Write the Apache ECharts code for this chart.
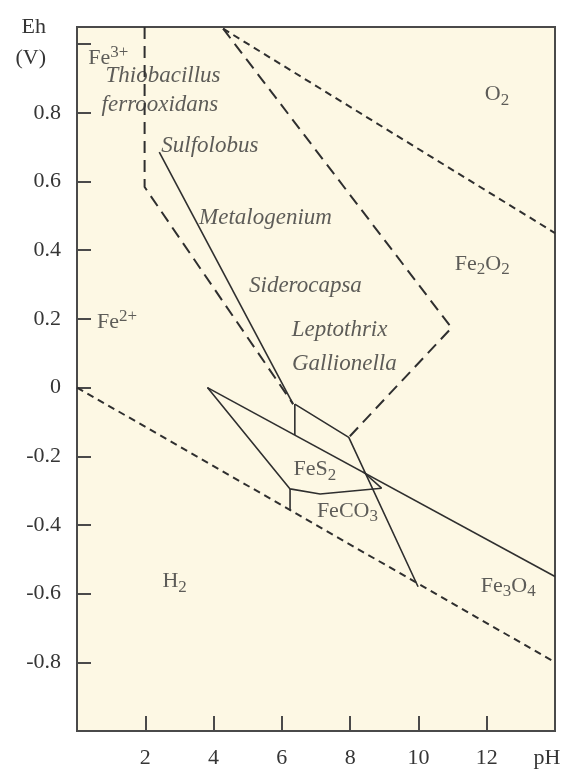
<!DOCTYPE html>
<html>
<head>
<meta charset="utf-8">
<script src="https://cdn.jsdelivr.net/npm/echarts@6/dist/echarts.min.js"></script>
<style>
html,body{margin:0;padding:0;background:#ffffff;}
#chart{width:564px;height:769px;}
</style>
</head>
<body>
<div id="chart"></div>
<script>
// ---- data (pH, Eh in V) ----
const pHTicks = [2, 4, 6, 8, 10, 12];
const ehTicks = [-0.8, -0.6, -0.4, -0.2, 0, 0.2, 0.4, 0.6, 0.8, 1.0];
const ehLabels = [-0.8, -0.6, -0.4, -0.2, 0, 0.2, 0.4, 0.6, 0.8];

const h2Boundary = [[0, 0], [14, -0.8]];
const o2Boundary = [[4.28, 1.045], [14, 0.45]];
const fe3Boundary = [[1.98, 1.05], [1.98, 0.584], [6.33, -0.048]];
const oxideBoundary = [[4.28, 1.045], [10.97, 0.174], [7.96, -0.145]];
const sulfolobusLine = [[2.41, 0.686], [6.33, -0.048]];
const ironStepLine = [[6.38, -0.048], [7.96, -0.145], [9.99, -0.58]];
const ironVertical = [[6.38, -0.048], [6.38, -0.138]];
const pyriteUpper = [[3.82, 0.0], [14, -0.55]];
const pyriteLower = [[3.82, 0.0], [6.24, -0.295], [7.12, -0.31], [8.92, -0.293], [8.38, -0.245]];
const sideriteEdge = [[6.24, -0.295], [6.24, -0.357]];

// annotations: [pH, Eh, rich text]
const annotations = [
  [0.92, 0.959, '{r|Fe}{sup|3+}'],
  [2.52, 0.907, '{i|Thiobacillus}'],
  [2.43, 0.824, '{i|ferrooxidans}'],
  [3.89, 0.703, '{i|Sulfolobus}'],
  [5.52, 0.495, '{i|Metalogenium}'],
  [6.69, 0.297, '{i|Siderocapsa}'],
  [7.69, 0.167, '{i|Leptothrix}'],
  [7.83, 0.070, '{i|Gallionella}'],
  [12.3, 0.853, '{r|O}{sub|2}'],
  [11.87, 0.36, '{r|Fe}{sub|2}{r|O}{sub|2}'],
  [1.17, 0.19, '{r|Fe}{sup|2+}'],
  [6.97, -0.239, '{r|FeS}{sub|2}'],
  [7.92, -0.360, '{r|FeCO}{sub|3}'],
  [2.86, -0.565, '{r|H}{sub|2}'],
  [12.63, -0.578, '{r|Fe}{sub|3}{r|O}{sub|4}']
];

// ---- styling ----
const FONT = 'Liberation Serif';
const TEXT = '#353535';
const LINE = '#2f2f2f';
const rich = {
  r: {fontFamily: FONT, fontSize: 22, color: TEXT, lineHeight: 28},
  i: {fontFamily: FONT, fontSize: 23, fontStyle: 'italic', color: TEXT, lineHeight: 28},
  sub: {fontFamily: FONT, fontSize: 17, color: TEXT, lineHeight: 18, verticalAlign: 'bottom'},
  sup: {fontFamily: FONT, fontSize: 17, color: TEXT, lineHeight: 18, verticalAlign: 'top'}
};

function lineSeries(name, data, dash) {
  return {
    name: name, type: 'line', data: data, symbol: 'none', silent: true,
    animation: false,
    lineStyle: {color: LINE, width: dash ? 2 : 1.6, type: dash || 'solid'},
    z: 3
  };
}
const SHORT = [7, 5];
const LONG = [12, 7];

const chart = echarts.init(document.getElementById('chart'), null, {renderer: 'canvas'});
chart.setOption({
  animation: false,
  backgroundColor: '#ffffff',
  grid: {
    left: 77, right: 9, top: 27, bottom: 35,
    show: true, backgroundColor: '#fdf8e4', borderColor: '#4a4a4a', borderWidth: 2
  },
  xAxis: {
    type: 'value', min: 0, max: 14,
    name: 'pH', nameLocation: 'end', nameGap: -8,
    nameTextStyle: {fontFamily: FONT, fontSize: 22, color: TEXT, align: 'center', verticalAlign: 'top', padding: [16, 0, 0, 0]},
    axisLine: {show: true, onZero: false, lineStyle: {color: '#4a4a4a', width: 2}},
    axisTick: {show: true, inside: true, length: 15, customValues: pHTicks, lineStyle: {color: '#4a4a4a', width: 2}},
    axisLabel: {customValues: pHTicks, margin: 16, fontFamily: FONT, fontSize: 22, color: TEXT},
    splitLine: {show: false}
  },
  yAxis: {
    type: 'value', min: -1, max: 1.05,
    name: 'Eh\n(V)', nameLocation: 'end', nameGap: -15.5,
    nameTextStyle: {fontFamily: FONT, fontSize: 22, color: TEXT, align: 'right', verticalAlign: 'middle', lineHeight: 31, padding: [0, 31, 0, 0]},
    axisLine: {show: true, onZero: false, lineStyle: {color: '#4a4a4a', width: 2}},
    axisTick: {show: true, inside: true, length: 14, customValues: ehTicks, lineStyle: {color: '#4a4a4a', width: 2}},
    axisLabel: {
      customValues: ehLabels, margin: 16, fontFamily: FONT, fontSize: 22, color: TEXT,
      formatter: function (v) { return Math.abs(v) < 1e-9 ? '0' : v.toFixed(1); }
    },
    splitLine: {show: false}
  },
  series: [
    lineSeries('H2 boundary', h2Boundary, SHORT),
    lineSeries('O2 boundary', o2Boundary, SHORT),
    lineSeries('Fe3+ boundary', fe3Boundary, LONG),
    lineSeries('oxide boundary', oxideBoundary, LONG),
    lineSeries('Sulfolobus', sulfolobusLine),
    lineSeries('iron step', ironStepLine),
    lineSeries('iron vertical', ironVertical),
    lineSeries('pyrite upper', pyriteUpper),
    lineSeries('pyrite lower', pyriteLower),
    lineSeries('siderite edge', sideriteEdge),
    {
      name: 'labels', type: 'scatter', symbolSize: 0, silent: true, z: 5,
      data: annotations.map(function (a) {
        return {value: [a[0], a[1]], label: {show: true, position: 'inside', formatter: a[2], rich: rich}};
      })
    }
  ]
});
</script>
</body>
</html>
